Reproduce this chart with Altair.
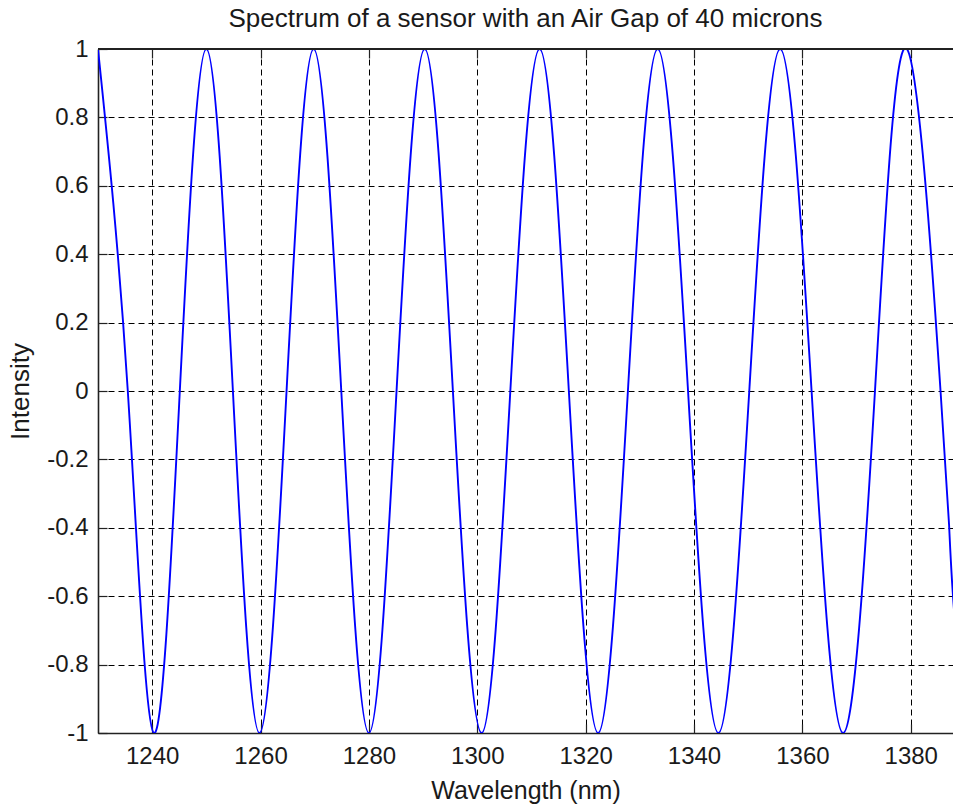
import altair as alt
import pandas as pd

# Values: peaks (+1), troughs (-1), zero crossings,
# and the last descending stretch at the right edge
wavelength = [1230.0, 1235.5, 1240.3, 1245.1, 1250.0, 1254.9, 1259.8, 1264.8,
              1269.8, 1274.9, 1280.0, 1285.1, 1290.3, 1295.5, 1300.8, 1306.1,
              1311.5, 1316.9, 1322.3, 1327.8, 1333.3, 1338.9, 1344.5, 1350.2,
              1355.9, 1361.7, 1367.5, 1373.4, 1379.3, 1385.5, 1387.1, 1387.8,
              1389.2]
intensity = [1.0, 0.0, -1.0, 0.0, 1.0, 0.0, -1.0, 0.0,
             1.0, 0.0, -1.0, 0.0, 1.0, 0.0, -1.0, 0.0,
             1.0, 0.0, -1.0, 0.0, 1.0, 0.0, -1.0, 0.0,
             1.0, 0.0, -1.0, 0.0, 1.0, 0.0, -0.4, -0.6,
             -0.87]
x_ticks = [1240, 1260, 1280, 1300, 1320, 1340, 1360, 1380]
y_ticks = [-1, -0.8, -0.6, -0.4, -0.2, 0, 0.2, 0.4, 0.6, 0.8, 1]
# the reference window cuts the axes just before 1390
x_domain = [1230, 1387.8]
y_domain = [-1, 1]

df = pd.DataFrame({"Wavelength": wavelength, "Intensity": intensity})

FONT = "Liberation Sans"
FS = 24
INK = "#1a1a1a"
FRAME = "#222222"

common_axis = dict(
    grid=True, gridDash=[6, 4], gridColor="black", gridOpacity=1, gridWidth=1,
    ticks=False, domain=True, domainColor=FRAME, domainWidth=1.6,
    labelFont=FONT, titleFont=FONT,
    labelFontSize=FS, labelColor=INK, titleColor=INK,
    titleFontWeight="normal", labelOverlap=False,
)

xs = alt.Scale(domain=x_domain, nice=False, zero=False)
ys = alt.Scale(domain=y_domain, nice=False, zero=False)

line = alt.Chart(df).mark_line(
    color="#0000ff", strokeWidth=1.9, interpolate="natural", clip=True
).encode(
    x=alt.X("Wavelength:Q", scale=xs,
            axis=alt.Axis(values=x_ticks, title="Wavelength (nm)", format="d",
                          labelPadding=11, titlePadding=10, labelFlush=False,
                          titleFontSize=25, **common_axis)),
    y=alt.Y("Intensity:Q", scale=ys,
            axis=alt.Axis(values=y_ticks, title="Intensity",
                          labelExpr="toString(round(datum.value*10)/10)",
                          labelPadding=10, titlePadding=13, labelFlush=False,
                          titleFontSize=26, **common_axis)),
)


def tick_axis(values, orient):
    # inward-pointing tick marks, as in the reference frame
    return alt.Axis(values=values, orient=orient, offset=-9, tickSize=9,
                    ticks=True, tickColor=FRAME, tickWidth=1.2,
                    labels=False, grid=False, domain=False, title=None)


ticks_bl = alt.Chart(df).mark_point(opacity=0).encode(
    x=alt.X("Wavelength:Q", scale=xs, axis=tick_axis(x_ticks, "bottom")),
    y=alt.Y("Intensity:Q", scale=ys, axis=tick_axis(y_ticks, "left")),
)
ticks_top = alt.Chart(df).mark_point(opacity=0).encode(
    x=alt.X("Wavelength:Q", scale=xs, axis=tick_axis(x_ticks, "top")),
    y=alt.Y("Intensity:Q", scale=ys, axis=None),
)

top_frame = alt.Chart(df).mark_rule(color=FRAME, strokeWidth=1.6).encode(
    y=alt.Y(datum=y_domain[1], scale=ys, axis=None)
)

chart = alt.layer(line, ticks_bl, ticks_top, top_frame).resolve_axis(
    x="independent", y="independent"
).properties(
    width=855, height=684,
    title=alt.TitleParams("Spectrum of a sensor with an Air Gap of 40 microns",
                          font=FONT, fontSize=26, fontWeight="normal",
                          color=INK, baseline="alphabetic", offset=9, dy=25),
    autosize=alt.AutoSizeParams(type="none"),
    padding={"left": 90, "top": 41, "right": 0, "bottom": 72},
).configure_view(stroke=None)

chart.save("out.html", embed_options={"renderer": "svg", "actions": False})
